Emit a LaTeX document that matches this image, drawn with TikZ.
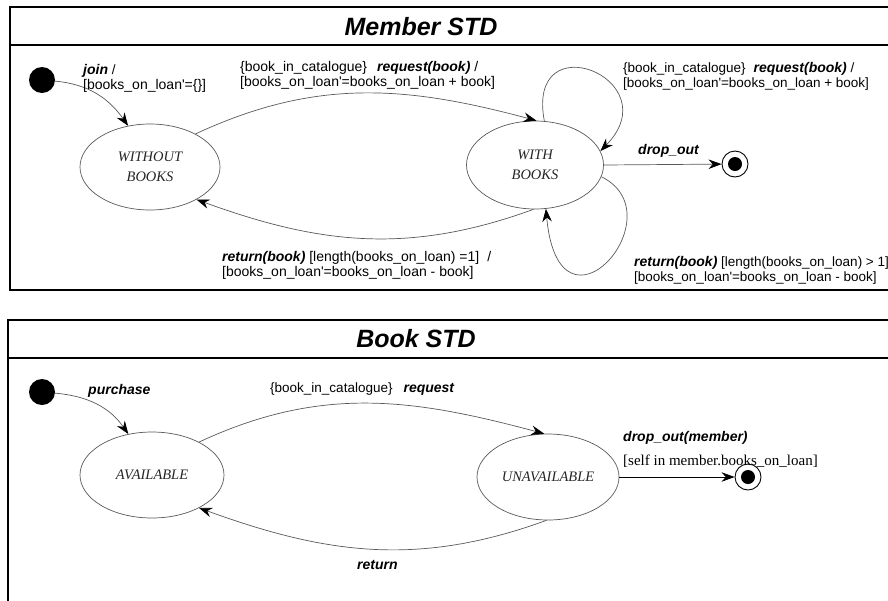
\documentclass[tikz,border=0pt]{standalone}
\usepackage{fontspec}
\setmainfont{Liberation Sans}
\newfontfamily\statefont{Liberation Serif}
\usetikzlibrary{arrows.meta,shapes.geometric}
\newcommand\evfont{\fontsize{14}{16}\selectfont\bfseries\itshape}
\newcommand\gdfont{\fontsize{13.5}{16}\selectfont\mdseries\upshape}
\newcommand\gdfontl{\fontsize{14}{16}\selectfont\mdseries\upshape}
\begin{document}
\begin{tikzpicture}[x=1pt,y=1pt,
  frame/.style={draw=black, line width=1.1pt},
  tr/.style={draw=black!65, line width=0.7pt, -{Stealth[length=13pt,width=9.5pt,color=black]}},
  initst/.style={circle, fill=black, minimum size=26pt, inner sep=0pt},
  finst/.style={circle, draw=black, line width=0.9pt, minimum size=26pt, inner sep=0pt},
  findot/.style={circle, fill=black, minimum size=14pt, inner sep=0pt},
  state/.style={ellipse, draw=black!65, line width=0.7pt, inner sep=0pt, align=center,
    text=black!85, font=\statefont\itshape\fontsize{14.5}{20}\selectfont},
  title/.style={font=\fontsize{25}{29}\selectfont\bfseries\itshape},
  lbl/.style={anchor=base west, inner sep=0pt, font=\gdfont}]
\useasboundingbox (0,0) rectangle (888,-600);

% ---------------- Member STD ----------------
\draw[frame] (892,-7) -- (10,-7) -- (10,-290) -- (892,-290);
\draw[frame] (10,-45) -- (892,-45);
\node[title] (t1) at (421,-27) {Member STD};

\node[initst] (mi) at (42,-80) {};
\node[state, minimum width=140pt, minimum height=86pt] (wo) at (150,-167) {WITHOUT\\BOOKS};
\node[state, minimum width=137pt, minimum height=88pt] (w) at (535,-165) {WITH\\BOOKS};
\node[finst] (mf) at (735,-164) {};
\node[findot] (mfd) at (mf) {};

\draw[tr] (mi) to[out=-5,in=125] (wo.118);
\draw[tr] (wo.36) to[out=25,in=165] (w.88);
\draw[tr] (w.268) to[out=200,in=-20] (wo.-35);
\draw[tr] (w.78) .. controls +(-19,100) and +(70,72) .. (w.12);
\draw[tr] (w.-10) .. controls +(77,-38) and +(13,-143) .. (w.-76);
\draw[tr] (w.east) -- (mf);

\node[lbl] (l1) at (83,-74) {{\evfont join} /};
\node[lbl, font=\gdfontl] (l2) at (83,-89) {[books\_on\_loan\textquotesingle=\{\}]};
\node[lbl, font=\gdfontl] (l3) at (240,-71) {\{book\_in\_catalogue\}\hspace{10pt}{\evfont request(book)} /};
\node[lbl, font=\gdfontl] (l4) at (240,-86) {[books\_on\_loan\textquotesingle=books\_on\_loan + book]};
\node[lbl] (l5) at (623,-72) {\{book\_in\_catalogue\}\hspace{8pt}{\evfont request(book)} /};
\node[lbl] (l6) at (623,-87) {[books\_on\_loan\textquotesingle=books\_on\_loan + book]};
\node[lbl] (l7) at (638,-154) {\evfont drop\_out};
\node[lbl, font=\gdfontl] (l8) at (222,-261) {{\evfont return(book)} [length(books\_on\_loan) =1]\hspace{8pt}/};
\node[lbl, font=\gdfontl] (l9) at (222,-276) {[books\_on\_loan\textquotesingle=books\_on\_loan - book]};
\node[lbl] (l10) at (634,-266) {{\evfont return(book)} [length(books\_on\_loan) > 1]};
\node[lbl] (l11) at (634,-281) {[books\_on\_loan\textquotesingle=books\_on\_loan - book]};

% ---------------- Book STD ----------------
\draw[frame] (892,-320) -- (8,-320) -- (8,-604);
\draw[frame] (8,-358) -- (892,-358);
\node[title] (t2) at (416,-339) {Book STD};

\node[initst] (bi) at (42,-392) {};
\node[state, minimum width=144pt, minimum height=86pt] (av) at (152,-475) {AVAILABLE};
\node[state, minimum width=142pt, minimum height=86pt] (un) at (548,-477) {UNAVAILABLE};
\node[finst] (bf) at (748,-477) {};
\node[findot] (bfd) at (bf) {};

\draw[tr] (bi) to[out=-5,in=125] (av.120);
\draw[tr] (av.35) to[out=25,in=165] (un.95);
\draw[tr] (un.268) to[out=200,in=-20] (av.-35);
\draw[tr, draw=black] (un.east) -- (bf);

\node[lbl] (b1) at (88,-394) {\evfont purchase};
\node[lbl] (b2) at (270,-392) {\{book\_in\_catalogue\}\hspace{11pt}{\evfont request}};
\node[lbl] (b3) at (357,-569) {\evfont return};
\node[lbl] (b4) at (623,-441) {\evfont drop\_out(member)};
\node[lbl, font=\statefont\fontsize{15}{18}\selectfont] (b5) at (623,-465) {[self in member.books\_on\_loan]};
\end{tikzpicture}
\end{document}
